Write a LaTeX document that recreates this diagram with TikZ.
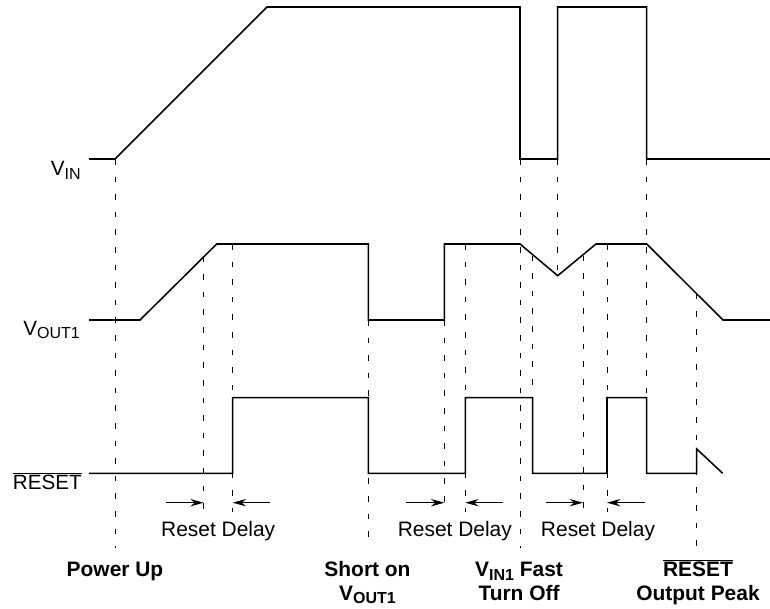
\documentclass[tikz,border=0pt]{standalone}
\usepackage{fontspec}
\setmainfont{Liberation Sans}
\usetikzlibrary{arrows.meta}

\newcommand{\lowsub}[1]{\raisebox{-0.35ex}{\fontsize{12}{12}\selectfont #1}}
\newcommand{\resetbar}{$\overline{\mbox{RESET}}$}

\begin{document}
\begin{tikzpicture}[x=0.75pt,y=0.75pt,yscale=-1,xscale=1,
  wave/.style={line width=1.15pt,line join=miter},
  guide/.style={line width=0.75pt,dash pattern=on 4.2pt off 9pt},
  delay/.style={line width=0.75pt,-{Stealth[length=10pt,width=5.5pt]}},
  sig/.style={anchor=base east,inner sep=0pt,font=\fontsize{15.5}{18}\selectfont},
  note/.style={anchor=base,inner sep=0pt,font=\fontsize{15.7}{18}\selectfont},
  event/.style={anchor=base,inner sep=0pt,align=center,font=\fontsize{15.7}{17.8}\selectfont\bfseries}]
\useasboundingbox (0,0) rectangle (770,609);

%Waveforms
\draw [wave] (89,159) -- (115,159) -- (267,7) -- (520,7) -- (520,159) -- (557.7,159) -- (557.7,7) -- (646.7,7) -- (646.7,159) -- (770,159) ;
\draw [wave] (89,320) -- (140,320) -- (216.7,244) -- (368.3,244) -- (368.3,320) -- (444.3,320) -- (444.3,244) -- (520,244) -- (557.7,275.7) -- (596,244) -- (646.7,244) -- (723,320) -- (770,320) ;
\draw [wave] (89,473.3) -- (232.7,473.3) -- (232.7,397.7) -- (368.3,397.7) -- (368.3,473.3) -- (465.3,473.3) -- (465.3,397.7) -- (532.7,397.7) -- (532.7,473.3) -- (607,473.3) -- (607,397.7) -- (646.7,397.7) -- (646.7,473.3) -- (696.7,473.3) -- (696.7,449) -- (722.7,473.3) ;

%Dashed guides
\draw [guide] (115,159) -- (115,548) ;
\draw [guide] (203.7,256.7) -- (203.7,512) ;
\draw [guide] (232.7,244) -- (232.7,512) ;
\draw [guide] (368.3,320) -- (368.3,548) ;
\draw [guide] (444.3,320) -- (444.3,512) ;
\draw [guide] (465.3,244) -- (465.3,512) ;
\draw [guide] (520,159) -- (520,548) ;
\draw [guide] (557.7,159) -- (557.7,275.7) ;
\draw [guide] (532.7,255.7) -- (532.7,397.7) ;
\draw [guide] (583,255.7) -- (583,512) ;
\draw [guide] (607,244) -- (607,512) ;
\draw [guide] (646.7,159) -- (646.7,397.7) ;
\draw [guide] (696.7,293.8) -- (696.7,548) ;

%Reset delay arrows
\draw [delay] (166,502.7) -- (203.7,502.7) ;
\draw [delay] (270,502.7) -- (232.7,502.7) ;
\draw [delay] (406,502.7) -- (444.3,502.7) ;
\draw [delay] (503.3,502.7) -- (465.3,502.7) ;
\draw [delay] (545.7,502.7) -- (583,502.7) ;
\draw [delay] (645,502.7) -- (607,502.7) ;

% Text Node
\node [sig] (vin) at (81,175.7) {V\lowsub{IN}};
\node [sig] (vout) at (80,335) {V\lowsub{OUT1}};
\node [sig] (rst) at (82,489.3) {\resetbar};
% Text Node
\node [note] (delayA) at (218.2,536) {Reset Delay};
\node [note] (delayB) at (454.8,536) {Reset Delay};
\node [note] (delayC) at (598,536) {Reset Delay};
% Text Node
\node [event] (pwr) at (115,576) {Power Up};
\node [event] (short) at (367.5,600) {Short on\\V\lowsub{OUT1}};
\node [event] (fast) at (519,600) {V\lowsub{IN1} Fast\\Turn Off};
\node [event] (peak) at (698,600) {\resetbar\\Output Peak};

\end{tikzpicture}
\end{document}
